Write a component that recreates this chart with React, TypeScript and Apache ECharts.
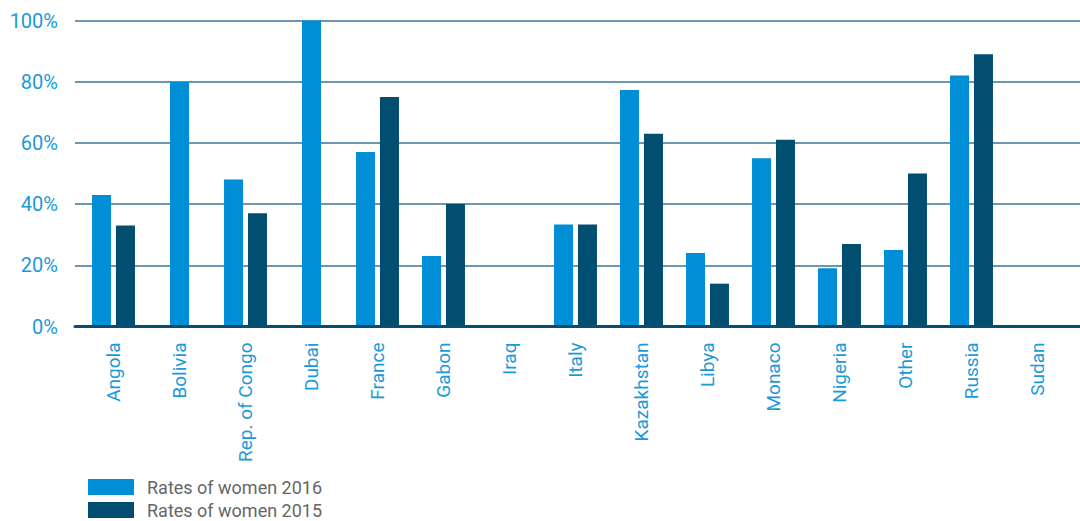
import React, { useEffect, useRef } from "react";
import * as echarts from "echarts";

const categories = ["Angola", "Bolivia", "Rep. of Congo", "Dubai", "France", "Gabon", "Iraq", "Italy", "Kazakhstan", "Libya", "Monaco", "Nigeria", "Other", "Russia", "Sudan"];
const rates2016: (number | null)[] = [43, 80, 48, 100, 57, 23, null, 33.3, 77.3, 24, 55, 19, 25, 82, null];
const rates2015: (number | null)[] = [33, null, 37, null, 75, 40, null, 33.3, 63, 14, 61, 27, 50, 89, null];
const yTicks = [0, 20, 40, 60, 80, 100];

const NAME16 = "Rates of women 2016";
const NAME15 = "Rates of women 2015";
const C16 = "#008fd6";
const C15 = "#024e70";
const FONT = "Roboto, sans-serif";

export default function App() {
  const ref = useRef<HTMLDivElement>(null);
  useEffect(() => {
    if (!ref.current) return;
    const chart = echarts.init(ref.current, null, { renderer: "svg" });
    const paired16 = rates2016.map((v, i) => (v != null && rates2015[i] != null ? v : null));
    const paired15 = rates2015.map((v, i) => (v != null && rates2016[i] != null ? v : null));
    const solo16 = rates2016.map((v, i) => (v != null && rates2015[i] == null ? v : null));
    const solo15 = rates2015.map((v, i) => (v != null && rates2016[i] == null ? v : null));
    const yMin = yTicks[0];
    const yMax = yTicks[yTicks.length - 1];
    const yInt = yTicks[1] - yTicks[0];
    const legendBase = {
      orient: "vertical",
      left: 88,
      padding: 0,
      itemWidth: 46,
      itemHeight: 16,
      icon: "rect",
      textStyle: { color: "#666", fontSize: 18, fontFamily: FONT, padding: [0, 0, 0, 8] },
    };
    chart.setOption({
      animation: false,
      grid: [
        { left: 75, right: 0, top: 20.5, height: 306 },
        { left: 80.5, width: 990, top: 20.5, height: 306 },
      ],
      legend: [
        { ...legendBase, top: 478, data: [NAME16] },
        { ...legendBase, top: 501, data: [NAME15] },
      ],
      xAxis: [
        {
          type: "category",
          gridIndex: 0,
          data: categories,
          axisLabel: { show: false },
          axisTick: { show: false },
          axisLine: { show: true, lineStyle: { color: "#0b4d6e", width: 3 } },
          z: 5,
        },
        {
          type: "category",
          gridIndex: 1,
          data: categories,
          axisLine: { show: false },
          axisTick: { show: false },
          axisLabel: {
            rotate: 90,
            margin: 16,
            color: "#1a9ad8",
            fontSize: 19,
            fontFamily: FONT,
            interval: 0,
          },
        },
        {
          type: "category",
          gridIndex: 1,
          data: categories,
          show: false,
        },
      ],
      yAxis: [
        {
          type: "value",
          gridIndex: 0,
          min: yMin,
          max: yMax,
          interval: yInt,
          axisLine: { show: false },
          axisTick: { show: false },
          axisLabel: {
            formatter: "{value}%",
            color: "#1a9ad8",
            fontSize: 20,
            fontFamily: FONT,
            margin: 17,
          },
          splitLine: { lineStyle: { color: "#3d7596", width: 1.5 } },
        },
        {
          type: "value",
          gridIndex: 1,
          min: yMin,
          max: yMax,
          interval: yInt,
          show: false,
          splitLine: { show: false },
        },
      ],
      series: [
        { name: NAME16, type: "bar", xAxisIndex: 1, yAxisIndex: 1, data: paired16, barWidth: 19, barGap: "26%", itemStyle: { color: C16 }, z: 3 },
        { name: NAME15, type: "bar", xAxisIndex: 1, yAxisIndex: 1, data: paired15, barWidth: 19, barGap: "26%", itemStyle: { color: C15 }, z: 3 },
        { name: NAME16, type: "bar", xAxisIndex: 2, yAxisIndex: 1, data: solo16, barWidth: 19, barGap: "-100%", itemStyle: { color: C16 }, z: 3 },
        { name: NAME15, type: "bar", xAxisIndex: 2, yAxisIndex: 1, data: solo15, barWidth: 19, barGap: "-100%", itemStyle: { color: C15 }, z: 3 },
      ],
    });
    return () => chart.dispose();
  }, []);
  return <div ref={ref} style={{ position: "absolute", left: 0, top: 0, width: 1080, height: 521 }} />;
}
